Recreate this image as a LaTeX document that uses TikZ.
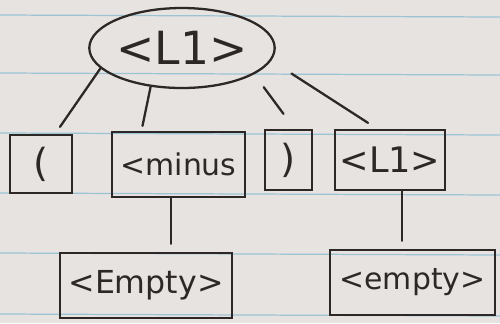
\documentclass[tikz,border=0pt]{standalone}
\usepackage{fontspec}
\setmainfont{DejaVu Sans}
\usepackage{xcolor}
\usetikzlibrary{shapes.geometric,calc}
\definecolor{paper}{RGB}{230,227,225}
\definecolor{ruled}{RGB}{155,195,212}
\definecolor{ink}{RGB}{45,40,38}

\begin{document}
\begin{tikzpicture}[x=0.2mm,y=-0.2mm,
        box/.style={draw=ink, line width=1.3pt, inner sep=0pt, text=ink},
        edge/.style={draw=ink, line width=1.3pt, line cap=round}]
                \useasboundingbox (0,0) rectangle (500,323);
                \fill[paper] (0,0) rectangle (500,323);
                \foreach \y in {15,73,133,193,253,314}
                    \draw[ruled, line width=0.7pt] (0,\y) -- (500,\y+2);

                \node[box, ellipse, minimum width=34mm, minimum height=16mm, font=\fontsize{26}{30}\selectfont] (root) at (182,48) {<L1>};

                \node[box, minimum width=12.4mm, minimum height=11.6mm, font=\fontsize{22}{26}\selectfont] (lpar) at (41,164) {(};
                \node[box, minimum width=26.6mm, minimum height=13mm, font=\fontsize{17}{20}\selectfont] (minus) at (178.5,164.5) {<minus};
                \node[box, minimum width=9.4mm, minimum height=12mm, font=\fontsize{22}{26}\selectfont] (rpar) at (288.5,160) {)};
                \node[box, minimum width=22mm, minimum height=12mm, font=\fontsize{20}{24}\selectfont] (l1b) at (390,160) {<L1>};

                \node[box, minimum width=34.4mm, minimum height=13mm, font=\fontsize{18}{22}\selectfont] (empty1) at (146,285.5) {<Empty>};
                \node[box, minimum width=33mm, minimum height=13mm, font=\fontsize{17}{20}\selectfont] (empty2) at (412.5,282.5) {<empty>};

                \draw[edge] (root.194) -- ($(lpar.north)+(19,-7)$);
                \draw[edge] (root.231) -- ($(minus.north)+(-36,-5)$);
                \draw[edge, shorten <=3.2mm] (root.-20) -- ($(rpar.north)+(-5,-15)$);
                \draw[edge, shorten <=4.8mm] (root.-8) -- ($(l1b.north)+(-22,-6)$);

                \coordinate (m1) at ($(minus.south)+(-7.5,0)$);
                \coordinate (m2) at ($(l1b.south)+(12,0)$);
                \draw[edge, shorten >=1.6mm] (m1) -- (m1 |- empty1.north);
                \draw[edge, shorten >=1.6mm] (m2) -- (m2 |- empty2.north);
            \end{tikzpicture}
\end{document}
